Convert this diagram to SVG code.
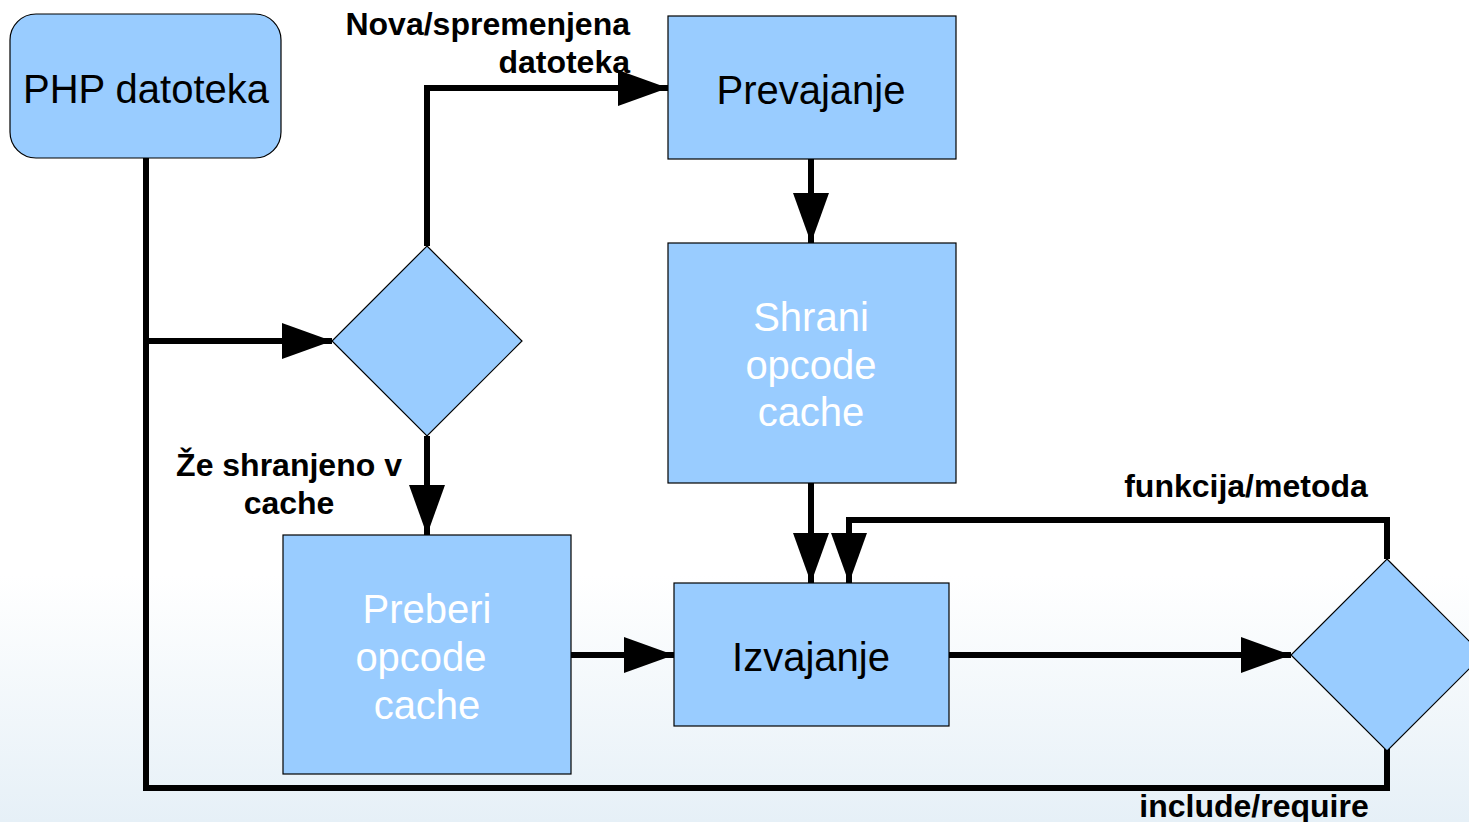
<svg xmlns="http://www.w3.org/2000/svg" width="1469" height="822" viewBox="0 0 1469 822">
<defs>
<linearGradient id="bg" x1="0" y1="0" x2="0" y2="1">
<stop offset="0.7" stop-color="#ffffff"/>
<stop offset="1" stop-color="#e6f0f7"/>
</linearGradient>
<marker id="arr" markerUnits="userSpaceOnUse" markerWidth="52" markerHeight="36" refX="50" refY="18" orient="auto">
<path d="M0,0 L50,18 L0,36 Z" fill="#000"/>
</marker>
<style>
.box{fill:#99ccff;stroke:#000;stroke-width:1.2}
.t{font-family:"Liberation Sans",Arial,sans-serif;font-size:40px;text-anchor:middle}
.w{fill:#fff}
.k{fill:#000}
.lbl{font-family:"Liberation Sans",Arial,sans-serif;font-size:32px;font-weight:bold;fill:#000}
.c{fill:none;stroke:#000;stroke-width:6;stroke-linejoin:miter}
</style>
</defs>
<rect width="1469" height="822" fill="url(#bg)"/>
<g id="connectors">
<polyline class="c" points="146,158 146,788 1387,788 1387,749"/>
<line class="c" x1="146" y1="341" x2="332" y2="341" marker-end="url(#arr)"/>
<polyline class="c" points="427,246 427,88 668,88" marker-end="url(#arr)"/>
<line class="c" x1="427" y1="436" x2="427" y2="535" marker-end="url(#arr)"/>
<line class="c" x1="811" y1="159" x2="811" y2="243" marker-end="url(#arr)"/>
<line class="c" x1="811" y1="483" x2="811" y2="583" marker-end="url(#arr)"/>
<polyline class="c" points="1387,559 1387,520 849,520 849,583" marker-end="url(#arr)"/>
<line class="c" x1="571" y1="655" x2="674" y2="655" marker-end="url(#arr)"/>
<line class="c" x1="949" y1="655" x2="1291" y2="655" marker-end="url(#arr)"/>
</g>
<g id="php">
<rect class="box" x="10" y="14" width="271" height="144" rx="26"/>
<text class="t k" x="146" y="103">PHP datoteka</text>
</g>
<g id="prevajanje">
<rect class="box" x="668" y="16" width="288" height="143"/>
<text class="t k" x="811" y="104">Prevajanje</text>
</g>
<g id="shrani">
<rect class="box" x="668" y="243" width="288" height="240"/>
<text class="t w" x="811" y="331">Shrani</text>
<text class="t w" x="811" y="379">opcode</text>
<text class="t w" x="811" y="426">cache</text>
</g>
<g id="izvajanje">
<rect class="box" x="674" y="583" width="275" height="143"/>
<text class="t k" x="811" y="671">Izvajanje</text>
</g>
<g id="preberi">
<rect class="box" x="283" y="535" width="288" height="239"/>
<text class="t w" x="427" y="623">Preberi</text>
<text class="t w" x="421" y="671">opcode</text>
<text class="t w" x="427" y="719">cache</text>
</g>
<g id="decision1">
<polygon class="box" points="427,246 522,341 427,436 332,341"/>
</g>
<g id="decision2">
<polygon class="box" points="1387,559 1483,655 1387,751 1291,655"/>
</g>
<g id="labels">
<text class="lbl" x="630" y="35" text-anchor="end">Nova/spremenjena</text>
<text class="lbl" x="630" y="73" text-anchor="end">datoteka</text>
<text class="lbl" x="289" y="476" text-anchor="middle">Že shranjeno v</text>
<text class="lbl" x="289" y="514" text-anchor="middle">cache</text>
<text class="lbl" x="1246" y="497" text-anchor="middle">funkcija/metoda</text>
<text class="lbl" x="1254" y="817" text-anchor="middle">include/require</text>
</g>
</svg>
